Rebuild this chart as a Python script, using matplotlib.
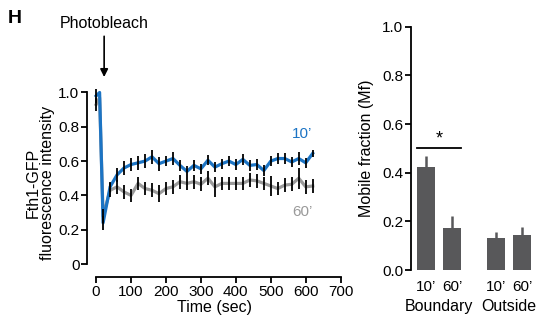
import numpy as np
import matplotlib
matplotlib.use("Agg")
from matplotlib import pyplot as plt

plt.rcParams['font.family'] = ['Liberation Sans', 'DejaVu Sans']

# FRAP recovery curves
time = [0, 10, 20] + list(range(40, 640, 20))
mean_10 = [0.98, 1.0, 0.24, 0.45, 0.52, 0.56, 0.58, 0.59, 0.60, 0.625, 0.585, 0.60, 0.615,
           0.575, 0.54, 0.575, 0.555, 0.605, 0.565, 0.585, 0.60, 0.58, 0.61, 0.575, 0.58,
           0.545, 0.60, 0.615, 0.615, 0.595, 0.615, 0.59, 0.645]
err_10 = [0.04, 0.0, 0.04, 0.03, 0.04, 0.04, 0.04, 0.04, 0.04, 0.04, 0.04, 0.03, 0.04,
          0.03, 0.03, 0.03, 0.03, 0.03, 0.03, 0.03, 0.03, 0.03, 0.03, 0.03, 0.03,
          0.03, 0.03, 0.03, 0.03, 0.03, 0.04, 0.03, 0.02]
mean_60 = [0.93, 0.97, 0.28, 0.43, 0.45, 0.42, 0.40, 0.47, 0.44, 0.43, 0.41, 0.44, 0.45,
           0.48, 0.47, 0.48, 0.465, 0.50, 0.45, 0.47, 0.47, 0.47, 0.47, 0.49, 0.485,
           0.47, 0.455, 0.44, 0.46, 0.465, 0.50, 0.45, 0.455]
err_60 = [0.04, 0.0, 0.04, 0.04, 0.04, 0.04, 0.04, 0.04, 0.04, 0.04, 0.05, 0.04, 0.04,
          0.04, 0.04, 0.04, 0.04, 0.04, 0.06, 0.04, 0.04, 0.04, 0.04, 0.04, 0.04,
          0.04, 0.06, 0.04, 0.04, 0.04, 0.06, 0.04, 0.04]

# mobile fraction bars
bar_labels = ["10\u2019", "60\u2019", "10\u2019", "60\u2019"]
group_labels = ["Boundary", "Outside"]
mf_mean = [0.425, 0.174, 0.133, 0.145]
mf_err = [0.045, 0.046, 0.022, 0.031]

blue = "#1c74c4"
grey = "#9a9a9a"
fs = 11
lfs = 11.5

fig = plt.figure(figsize=(5.48, 3.2), dpi=100)

# ---- left panel
ax = fig.add_axes([0.1588, 0.1347, 0.4635, 0.587])
ax.plot(time, mean_60, color=grey, lw=2.3, zorder=2, clip_on=False)
ax.plot(time, mean_10, color=blue, lw=2.3, zorder=3, clip_on=False)
ax.errorbar(time, mean_60, yerr=err_60, fmt="none", ecolor="black", elinewidth=1.3,
            capsize=0, zorder=4, clip_on=False)
ax.errorbar(time, mean_10, yerr=err_10, fmt="none", ecolor="black", elinewidth=1.3,
            capsize=0, zorder=4, clip_on=False)
ax.set_xlim(-26, 701)
ax.set_ylim(-0.075, 1.02)
ax.spines["top"].set_visible(False)
ax.spines["right"].set_visible(False)
ax.spines["left"].set_bounds(0, 1)
ax.spines["bottom"].set_bounds(0, 700)
for s in ["left", "bottom"]:
    ax.spines[s].set_linewidth(1.3)
ax.set_yticks([0, 0.2, 0.4, 0.6, 0.8, 1.0])
ax.set_yticklabels(["0", "0.2", "0.4", "0.6", "0.8", "1.0"])
ax.set_xticks(range(0, 701, 100))
ax.tick_params(direction="out", length=4, width=1.3, labelsize=fs, pad=1.5)
ax.set_xlabel("Time (sec)", fontsize=lfs, labelpad=1)
ax.set_ylabel("Fth1-GFP\nfluorescence intensity", fontsize=lfs, labelpad=2, linespacing=1.0)
ax.text(620, 0.735, "10\u2019", color=blue, fontsize=fs, ha="right")
ax.text(620, 0.28, "60\u2019", color=grey, fontsize=fs, ha="right")
ax.annotate("Photobleach", xy=(23, 1.09), xytext=(23, 1.36), ha="center", va="bottom",
            fontsize=lfs, annotation_clip=False,
            arrowprops=dict(arrowstyle="-|>", color="black", lw=1.2, shrinkA=2, shrinkB=0))

fig.text(0.014, 0.942, "H", fontsize=14, fontweight="bold", va="center")

# ---- right panel
ax2 = fig.add_axes([0.7494, 0.15625, 0.2214, 0.7603])
pos = [0, 1, 2.71, 3.71]
ax2.bar(pos, mf_mean, width=0.7, color="#58585a", zorder=2)
ax2.errorbar(pos, mf_mean, yerr=[np.zeros(len(mf_mean)), mf_err], fmt="none",
             ecolor="#58585a", elinewidth=1.8, capsize=0, zorder=1)
ax2.set_xlim(-0.605, 4.1)
ax2.set_ylim(0, 1.0)
ax2.spines["top"].set_visible(False)
ax2.spines["right"].set_visible(False)
ax2.spines["bottom"].set_visible(False)
ax2.spines["left"].set_linewidth(1.3)
ax2.set_yticks([0, 0.2, 0.4, 0.6, 0.8, 1.0])
ax2.set_yticklabels(["0.0", "0.2", "0.4", "0.6", "0.8", "1.0"])
ax2.set_xticks(pos)
ax2.set_xticklabels(bar_labels)
ax2.tick_params(axis="y", direction="out", length=4, width=1.3, labelsize=fs, pad=1.5)
ax2.tick_params(axis="x", length=0, labelsize=fs, pad=7)
ax2.set_ylabel("Mobile fraction (Mf)", fontsize=lfs, labelpad=6)
ax2.plot([-0.35, 1.35], [0.5, 0.5], color="black", lw=1.3)
ax2.text(0.5, 0.505, "*", ha="center", va="bottom", fontsize=13)
ax2.text(0.5, -0.148, group_labels[0], ha="center", va="center", fontsize=lfs)
ax2.text(3.21, -0.148, group_labels[1], ha="center", va="center", fontsize=lfs)

fig.savefig("out.png", dpi=100)
